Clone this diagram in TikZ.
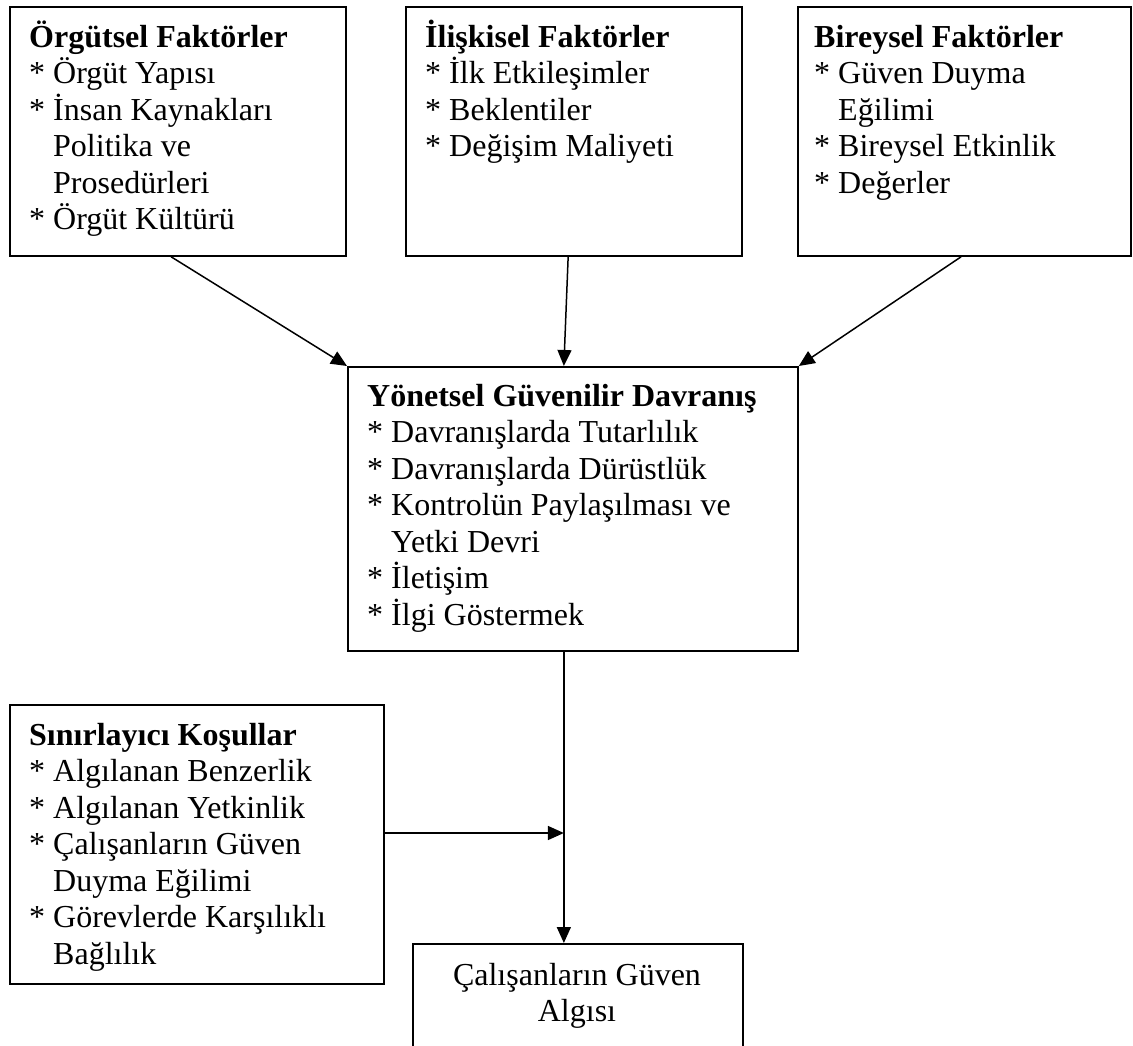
\documentclass[tikz,border=0pt]{standalone}
\usepackage{fontspec}
\setmainfont{Liberation Serif}
\usetikzlibrary{arrows.meta,calc}
\newcommand{\stitem}{*~}
\newcommand{\stcont}{\hphantom{*}~}
\tikzset{
  box/.style={draw, line width=1.8pt, inner sep=0pt, anchor=north west},
  txt/.style={anchor=base west, inner sep=0pt, font=\fontsize{32}{36.5}\selectfont},
  ctxt/.style={anchor=base, inner sep=0pt, font=\fontsize{32}{36.5}\selectfont},
  link/.style={line width=1.5pt, -{Triangle[length=16pt,width=14pt]}},
}
\begin{document}
\begin{tikzpicture}[x=1pt,y=-1pt]
\useasboundingbox (0,0) rectangle (1133,1045);
\clip (0,0) rectangle (1133,1045);

% factor boxes
\node[box, minimum width=336pt, minimum height=249pt] (b1) at (9,6) {};
\node[txt] (t1) at (29,47) {\parbox[t]{400pt}{\raggedright
  \textbf{Örgütsel Faktörler}\\
  \stitem Örgüt Yapısı\\
  \stitem İnsan Kaynakları\\
  \stcont Politika ve\\
  \stcont Prosedürleri\\
  \stitem Örgüt Kültürü}};

\node[box, minimum width=336pt, minimum height=249pt] (b2) at (405,6) {};
\node[txt] (t2) at (425,47) {\parbox[t]{400pt}{\raggedright
  \textbf{İlişkisel Faktörler}\\
  \stitem İlk Etkileşimler\\
  \stitem Beklentiler\\
  \stitem Değişim Maliyeti}};

\node[box, minimum width=333pt, minimum height=249pt] (b3) at (797,6) {};
\node[txt] (t3) at (814,47) {\parbox[t]{400pt}{\raggedright
  \textbf{Bireysel Faktörler}\\
  \stitem Güven Duyma\\
  \stcont Eğilimi\\
  \stitem Bireysel Etkinlik\\
  \stitem Değerler}};

% managerial behaviour
\node[box, minimum width=450pt, minimum height=284pt] (mid) at (347,366) {};
\node[txt] (tm) at (367,406) {\parbox[t]{440pt}{\raggedright
  \textbf{Yönetsel Güvenilir Davranış}\\
  \stitem Davranışlarda Tutarlılık\\
  \stitem Davranışlarda Dürüstlük\\
  \stitem Kontrolün Paylaşılması ve\\
  \stcont Yetki Devri\\
  \stitem İletişim\\
  \stitem İlgi Göstermek}};

% limiting conditions
\node[box, minimum width=374pt, minimum height=279pt] (sc) at (9,704) {};
\node[txt] (ts) at (29,745) {\parbox[t]{400pt}{\raggedright
  \textbf{Sınırlayıcı Koşullar}\\
  \stitem Algılanan Benzerlik\\
  \stitem Algılanan Yetkinlik\\
  \stitem Çalışanların Güven\\
  \stcont Duyma Eğilimi\\
  \stitem Görevlerde Karşılıklı\\
  \stcont Bağlılık}};

% outcome
\node[box, minimum width=330pt, minimum height=130pt] (bot) at (412,943) {};
\node[ctxt] (tb) at (577,985) {\parbox[t]{320pt}{\centering
  Çalışanların Güven\\Algısı}};

% connectors
\coordinate (s1) at ($(b1.south west)!0.48!(b1.south east)$);
\coordinate (s2) at ($(b2.south west)!0.483!(b2.south east)$);
\coordinate (s3) at ($(b3.south west)!0.49!(b3.south east)$);
\coordinate (e2) at ($(mid.north west)!0.48!(mid.north east)$);
\coordinate (m4) at ($(mid.south west)!0.48!(mid.south east)$);
\coordinate (hj) at (563,833);

\draw[link] (s1) -- (mid.north west);
\draw[link] (s2) -- (e2);
\draw[link] (s3) -- (mid.north east);
\draw[link] (m4) -- (m4 |- bot.north);
\draw[link] (sc.east |- hj) -- (m4 |- hj);
\end{tikzpicture}
\end{document}
